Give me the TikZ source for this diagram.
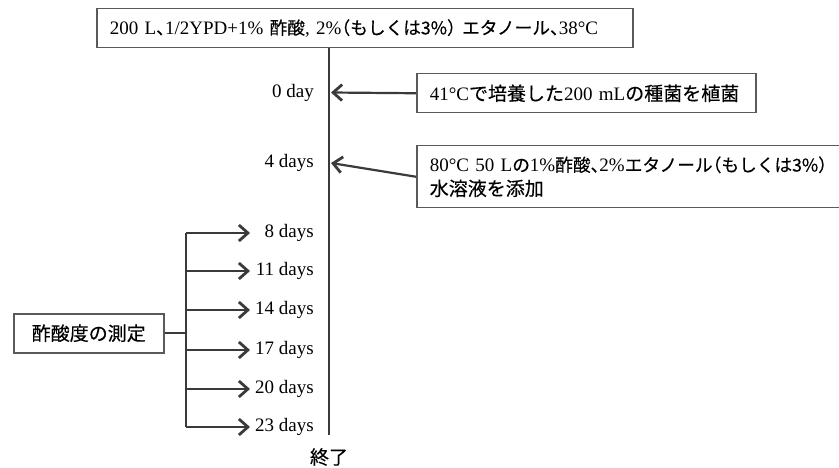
\documentclass[tikz,border=0pt]{standalone}
\usepackage{fontspec}
\setmainfont{Liberation Serif}
\newfontfamily\jp[FakeBold=0.3]{Noto Sans CJK JP}
\newfontfamily\jps[FakeBold=0.3,Scale=0.93]{Noto Sans CJK JP}
\usetikzlibrary{arrows.meta}
\definecolor{ln}{HTML}{3A3A3A}
\definecolor{bx}{HTML}{5A5A5A}
\newcommand{\hwl}[1]{\makebox[0.5em][l]{#1}}
\newcommand{\hwr}[1]{\makebox[0.5em][r]{#1}}
\begin{document}
\begin{tikzpicture}[x=1pt,y=-1pt, font=\fontsize{19}{24}\selectfont,
  box/.style={draw=bx, line width=1.5pt, fill=white, inner xsep=13pt, inner ysep=0pt, align=left, anchor=north west},
  arr/.style={draw=ln, line width=2.2pt, -{Straight Barb[length=9pt,width=16pt,line width=2.8pt]}},
  lbl/.style={anchor=east, inner sep=0pt}]
\useasboundingbox (0,0) rectangle (839,468);
\node[box, text width=510pt, minimum height=39pt] (top) at (96,8)
  {\mbox{200 L{\jps\hwl{、}}1/2YPD+1\% {\jps 酢酸}, 2\%{\jps\hwr{（}もしくは3\%\hwl{）}} {\jps エタノール\hwl{、}}38°C}};
\coordinate (lbot) at (329,435);
\draw[ln, line width=2.5pt] (top.south -| lbot) -- (lbot);
\node[inner sep=0pt] (end) at (329,457) {\jp 終了};

\node[box, text width=313pt, minimum height=39pt] (b1) at (416,73)
  {\mbox{41°C{\jp で培養した}200 mL{\jp の種菌を植菌}}};
\node[box, text width=440pt, minimum height=62pt] (b2) at (416,145)
  {\mbox{80°C 50 L{\jps の}1\%{\jps 酢酸\hwl{、}}2\%{\jps エタノール\hwr{（}もしくは3\%\hwl{）}}}\\{\jp 水溶液を添加}};
\node[lbl] (d0) at (314,92.5) {0 day};
\node[lbl] (d4) at (314,163) {4 days};
\coordinate (t0) at (331,92.5);
\coordinate (t4) at (331,163);
\draw[arr] (b1.west) -- (t0);
\draw[arr] (b2.west) -- (t4);

\node[box, text width=124pt, minimum height=39pt, align=center] (b3) at (13,313) {\jp 酢酸度の測定};
\foreach \n/\y/\t in {8/233/8 days, 11/271/11 days, 14/310/14 days, 17/350/17 days, 20/389/20 days, 23/427/23 days} {
  \coordinate (s\n) at (186,\y);
  \coordinate (e\n) at (250,\y);
  \node[lbl] (d\n) at (314,\y) {\t};
  \draw[arr] (s\n) -- (e\n);
}
\draw[ln, line width=2.2pt] (s8) -- (s23);
\draw[ln, line width=2.2pt] (b3.east) -- (b3.east -| s8);
\end{tikzpicture}
\end{document}
